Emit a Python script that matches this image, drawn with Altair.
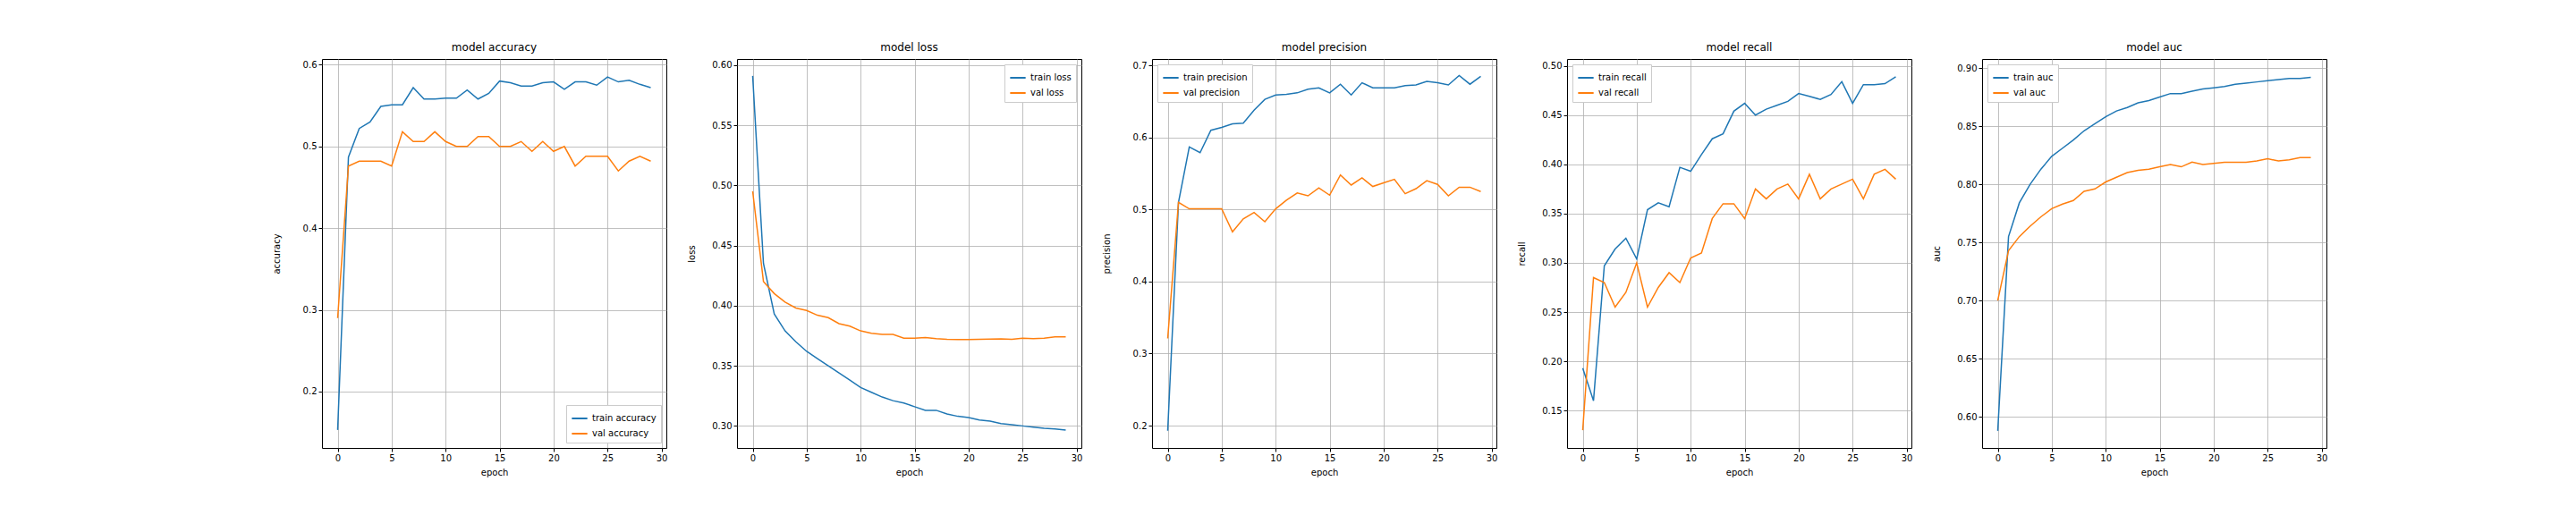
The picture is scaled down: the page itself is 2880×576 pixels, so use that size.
import altair as alt
import pandas as pd

epochs = list(range(30))

train_accuracy = [0.153, 0.487, 0.522, 0.530, 0.549, 0.551, 0.551, 0.572, 0.558, 0.558,
                  0.559, 0.559, 0.569, 0.558, 0.565, 0.580, 0.578, 0.574, 0.574, 0.578,
                  0.579, 0.570, 0.579, 0.579, 0.575, 0.585, 0.579, 0.581, 0.576, 0.572]
val_accuracy = [0.290, 0.476, 0.482, 0.482, 0.482, 0.476, 0.518, 0.506, 0.506, 0.518,
                0.506, 0.500, 0.500, 0.512, 0.512, 0.500, 0.500, 0.506, 0.494, 0.506,
                0.494, 0.500, 0.476, 0.488, 0.488, 0.488, 0.470, 0.482, 0.488, 0.482]

train_loss = [0.591, 0.435, 0.393, 0.379, 0.370, 0.362, 0.356, 0.350, 0.344, 0.338,
              0.332, 0.328, 0.324, 0.321, 0.319, 0.316, 0.313, 0.313, 0.310, 0.308,
              0.307, 0.305, 0.304, 0.302, 0.301, 0.300, 0.299, 0.298, 0.2975, 0.2965]
val_loss = [0.495, 0.420, 0.410, 0.403, 0.398, 0.396, 0.392, 0.390, 0.385, 0.383,
            0.379, 0.377, 0.376, 0.376, 0.373, 0.373, 0.3735, 0.3725, 0.372, 0.3718,
            0.3718, 0.372, 0.3722, 0.3724, 0.372, 0.373, 0.3725, 0.373, 0.374, 0.374]

train_precision = [0.193, 0.510, 0.587, 0.579, 0.610, 0.614, 0.619, 0.620, 0.638, 0.653,
                   0.659, 0.660, 0.662, 0.667, 0.669, 0.662, 0.674, 0.659, 0.676, 0.669,
                   0.669, 0.669, 0.672, 0.673, 0.678, 0.676, 0.673, 0.686, 0.674, 0.685]
val_precision = [0.321, 0.510, 0.501, 0.501, 0.501, 0.501, 0.469, 0.487, 0.496, 0.483,
                 0.501, 0.513, 0.523, 0.519, 0.530, 0.520, 0.548, 0.534, 0.544, 0.532,
                 0.537, 0.542, 0.522, 0.529, 0.540, 0.535, 0.519, 0.531, 0.531, 0.525]

train_recall = [0.193, 0.160, 0.297, 0.314, 0.325, 0.304, 0.354, 0.361, 0.357, 0.397,
                0.393, 0.410, 0.426, 0.431, 0.454, 0.462, 0.450, 0.456, 0.460, 0.464,
                0.472, 0.469, 0.466, 0.471, 0.484, 0.462, 0.481, 0.481, 0.482, 0.489]
val_recall = [0.130, 0.285, 0.280, 0.255, 0.270, 0.300, 0.255, 0.275, 0.290, 0.280,
              0.305, 0.310, 0.345, 0.360, 0.360, 0.345, 0.375, 0.365, 0.375, 0.380,
              0.365, 0.390, 0.365, 0.375, 0.380, 0.385, 0.365, 0.390, 0.395, 0.385]

train_auc = [0.588, 0.755, 0.784, 0.800, 0.813, 0.824, 0.831, 0.838, 0.846, 0.852,
             0.858, 0.863, 0.866, 0.870, 0.872, 0.875, 0.878, 0.878, 0.880, 0.882,
             0.883, 0.884, 0.886, 0.887, 0.888, 0.889, 0.890, 0.891, 0.891, 0.892]
val_auc = [0.700, 0.743, 0.755, 0.764, 0.772, 0.779, 0.783, 0.786, 0.794, 0.796,
           0.802, 0.806, 0.810, 0.812, 0.813, 0.815, 0.817, 0.815, 0.819, 0.817,
           0.818, 0.819, 0.819, 0.819, 0.820, 0.822, 0.820, 0.821, 0.823, 0.823]

# metric, train, val, y domain, y ticks, tick format, legend position
panels = [
    ("accuracy", train_accuracy, val_accuracy, [0.131, 0.607], [0.2, 0.3, 0.4, 0.5, 0.6], ".1f", "bottom-right"),
    ("loss", train_loss, val_loss, [0.2817, 0.605], [0.30, 0.35, 0.40, 0.45, 0.50, 0.55, 0.60], ".2f", "top-right"),
    ("precision", train_precision, val_precision, [0.169, 0.709], [0.2, 0.3, 0.4, 0.5, 0.6, 0.7], ".1f", "top-left"),
    ("recall", train_recall, val_recall, [0.112, 0.507], [0.15, 0.20, 0.25, 0.30, 0.35, 0.40, 0.45, 0.50], ".2f", "top-left"),
    ("auc", train_auc, val_auc, [0.5733, 0.9077], [0.60, 0.65, 0.70, 0.75, 0.80, 0.85, 0.90], ".2f", "top-left"),
]

FONT = "DejaVu Sans"


def panel(metric, train, val, domain, ticks, fmt, legend_pos):
    names = ["train " + metric, "val " + metric]
    df = pd.DataFrame({
        "epoch": epochs + epochs,
        "value": train + val,
        "series": [names[0]] * 30 + [names[1]] * 30,
    })
    return alt.Chart(df, title="model " + metric).mark_line(strokeWidth=1.5, clip=True).encode(
        x=alt.X("epoch:Q", title="epoch",
                scale=alt.Scale(domain=[-1.45, 30.45], nice=False, zero=False),
                axis=alt.Axis(values=[0, 5, 10, 15, 20, 25, 30], format="d")),
        y=alt.Y("value:Q", title=metric,
                scale=alt.Scale(domain=domain, nice=False, zero=False),
                axis=alt.Axis(values=ticks, format=fmt, minExtent=40, maxExtent=40)),
        color=alt.Color("series:N", sort=names,
                        scale=alt.Scale(domain=names, range=["#1f77b4", "#ff7f0e"]),
                        legend=alt.Legend(title=None, orient=legend_pos, symbolType="stroke",
                                          symbolStrokeWidth=2, symbolSize=300,
                                          fillColor="white", strokeColor="#cccccc",
                                          padding=5, labelFontSize=10, offset=6)),
    ).properties(width=385, height=435)


chart = alt.hconcat(*[panel(*p) for p in panels], spacing=20).resolve_scale(
    color="independent"
).properties(
    padding={"left": 295, "top": 38, "right": 5, "bottom": 5}
).configure(font=FONT).configure_view(
    stroke="black", strokeWidth=1
).configure_axis(
    grid=True, gridColor="#b0b0b0", gridWidth=0.8,
    domain=False, tickColor="black", tickSize=4,
    labelFont=FONT, labelFontSize=10, labelColor="black",
    titleFont=FONT, titleFontSize=10, titleFontWeight="normal", titleColor="black",
    titlePadding=6,
).configure_title(
    font=FONT, fontSize=12, fontWeight="normal", color="black", offset=6
).configure_legend(
    labelFont=FONT, labelColor="black"
)

chart.save("out.html", embed_options={"renderer": "svg", "actions": False})
